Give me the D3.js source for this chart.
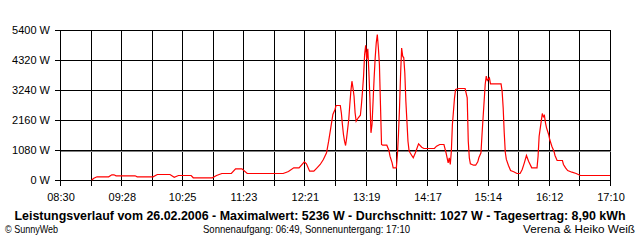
<!DOCTYPE html>
<html><head><meta charset="utf-8">
<script src="https://cdn.jsdelivr.net/npm/d3@7"></script>
<style>
html,body{margin:0;padding:0;background:#fff;}
svg{display:block;}
text{font-family:"Liberation Sans",Arial,sans-serif;fill:#000;}
</style></head>
<body>
<svg id="c" width="640" height="240"></svg>
<script>
// ---- data ----
const times = ["09:00","09:02","09:05","09:16","09:19","09:21","09:23","09:41","09:43","09:58",
"10:02","10:14","10:18","10:22","10:34","10:36","10:54","10:58","11:03","11:12","11:16","11:22","11:27",
"12:01","12:06","12:11","12:16","12:21","12:23","12:26","12:30","12:33","12:36","12:39","12:42","12:44",
"12:46","12:48","12:50","12:51","12:55","12:56","12:57","12:58","12:59","13:00","13:01","13:03","13:04",
"13:05","13:06","13:07","13:08","13:09","13:10","13:11","13:12","13:14","13:15","13:16","13:17","13:18",
"13:19","13:20","13:21","13:22","13:23","13:24","13:25","13:26","13:27","13:28","13:29","13:30","13:31",
"13:32","13:33","13:34","13:35","13:39","13:41","13:42","13:44","13:45","13:48","13:49","13:50","13:51",
"13:52","13:53","13:54","13:55","13:56","13:57","13:58","13:59","14:00","14:01","14:03","14:04","14:06",
"14:09","14:12","14:14","14:24","14:26","14:29","14:33","14:35","14:36","14:37","14:38","14:39","14:40",
"14:41","14:42","14:43","14:44","14:47","14:53","14:55","14:56","14:57","14:58","15:01","15:03","15:05",
"15:06","15:08","15:09","15:10","15:11","15:12","15:13","15:14","15:16","15:17","15:27","15:28","15:29",
"15:30","15:31","15:32","15:34","15:36","15:39","15:42","15:45","15:47","15:49","15:51","15:53","15:56",
"16:01","16:02","16:03","16:05","16:06","16:07","16:08","16:09","16:10","16:12","16:13","16:15","16:17",
"16:18","16:20","16:25","16:26","16:28","16:30","16:34","16:38","16:42","17:10"];
const watts = [0,65,115,115,187,187,151,151,115,115,
198,198,100,162,162,80,80,162,234,234,403,403,234,
234,306,439,439,655,583,317,317,439,558,738,979,1397,
1879,2358,2538,2682,2682,2419,1998,1638,1397,1242,1519,2178,2718,
3200,3557,3319,3017,2419,2117,2178,2239,2333,2718,3197,3737,4518,
4850,4340,4720,3917,2959,1699,1998,2837,3679,4399,4939,5236,4759,
4158,2700,1278,1253,1253,1062,857,619,439,439,900,1640,2600,
3800,4750,4457,4399,3859,2837,2117,1397,1062,979,857,799,979,
1303,1181,1134,1134,1217,1278,1278,979,800,620,800,560,1040,
1998,2477,2959,3258,3294,3294,2959,1397,799,583,533,533,655,
799,979,1638,2239,2837,3438,3737,3582,3679,3463,3463,3200,2600,
1700,1000,740,520,342,295,234,234,378,619,882,677,439,
439,857,1577,2117,2394,2275,2322,2059,1879,1638,1458,1217,1037,
882,702,702,558,439,342,281,234,162,162];
const average = 1027;
const yTicks = [0,1080,2160,3240,4320,5400];
const yTickLabels = ["0 W","1080 W","2160 W","3240 W","4320 W","5400 W"];
const xTickLabels = ["08:30","09:28","10:25","11:23","12:21","13:19","14:17","15:14","16:12","17:10"];
const title = "Leistungsverlauf vom 26.02.2006 - Maximalwert: 5236 W - Durchschnitt: 1027 W - Tagesertrag: 8,90 kWh";
const footLeft = "\u00A9 SunnyWeb";
const footMid = "Sonnenaufgang: 06:49, Sonnenuntergang: 17:10";
const footRight = "Verena & Heiko Wei\u00DF";

// ---- chart ----
const toMin = s => { const [h,m] = s.split(":").map(Number); return h*60+m; };
const t0 = toMin(xTickLabels[0]), t1 = toMin(xTickLabels[xTickLabels.length-1]);
const svg = d3.select("#c");
const x = d3.scaleLinear().domain([t0, t1]).range([60, 610]);
const y = d3.scaleLinear().domain([0, 5400]).range([180, 30]);
const g = svg.append("g").attr("transform","translate(0.5,0.5)");

// vertical gridlines (every half label interval)
const nInt = (xTickLabels.length-1)*2;
const gridX = d3.range(nInt+1).map(i => t0 + i*(t1-t0)/nInt);
g.selectAll("line.vx").data(gridX).join("line")
  .attr("x1", d=>Math.round(x(d))).attr("x2", d=>Math.round(x(d)))
  .attr("y1", y(5400)).attr("y2", y(0)+5)
  .attr("stroke","#000").attr("stroke-width",1).attr("shape-rendering","crispEdges");
// horizontal gridlines
g.selectAll("line.hy").data(yTicks).join("line")
  .attr("x1", 54).attr("x2", 610)
  .attr("y1", d=>Math.round(y(d))).attr("y2", d=>Math.round(y(d)))
  .attr("stroke","#000").attr("stroke-width",1).attr("shape-rendering","crispEdges");
// average line
g.append("line").attr("x1",60).attr("x2",610)
  .attr("y1", Math.round(y(average))).attr("y2", Math.round(y(average)))
  .attr("stroke","#808080").attr("stroke-width",1).attr("shape-rendering","crispEdges");

// y labels
svg.selectAll("text.yl").data(yTicks).join("text")
  .attr("x", 50).attr("y", d=>y(d)+4).attr("text-anchor","end")
  .attr("font-size","11px").text((d,i)=>yTickLabels[i]);
// x labels
svg.selectAll("text.xl").data(xTickLabels).join("text")
  .attr("x", d=>x(toMin(d))+1).attr("y", 201).attr("text-anchor","middle")
  .attr("font-size","11px").text(d=>d);

// power line
const pts = times.map((t,i)=>[toMin(t), watts[i]]);
svg.append("path").datum(pts)
  .attr("d", d3.line().x(d=>x(d[0])).y(d=>y(d[1])))
  .attr("fill","none").attr("stroke","#ff0000").attr("stroke-width",1.2);

// title and footer
svg.append("text").attr("x",320).attr("y",220).attr("text-anchor","middle")
  .attr("font-size","12px").attr("font-weight","bold")
  .attr("textLength",611).attr("lengthAdjust","spacingAndGlyphs").text(title);
svg.append("text").attr("x",5).attr("y",233).attr("font-size","11px")
  .attr("textLength",53).attr("lengthAdjust","spacingAndGlyphs").text(footLeft);
svg.append("text").attr("x",203).attr("y",233).attr("font-size","11px")
  .attr("textLength",207).attr("lengthAdjust","spacingAndGlyphs").text(footMid);
svg.append("text").attr("x",635).attr("y",233).attr("font-size","11px").attr("text-anchor","end")
  .attr("textLength",112).attr("lengthAdjust","spacingAndGlyphs").text(footRight);
</script>
</body></html>
